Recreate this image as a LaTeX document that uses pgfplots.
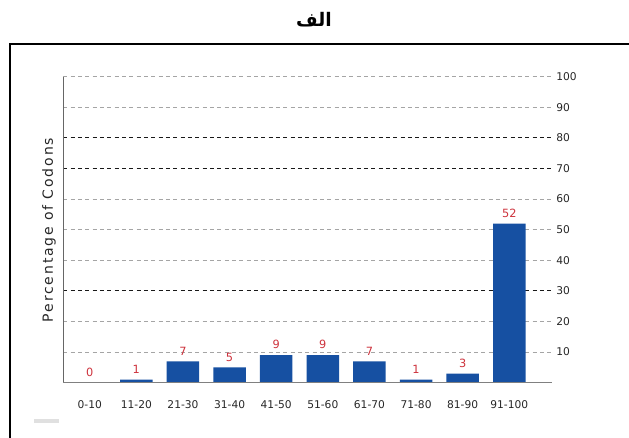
\documentclass[border=0pt]{standalone}
\usepackage{fontspec}
\usepackage{pgfplots}
\pgfplotsset{compat=1.18}
\setmainfont{DejaVu Sans}
\newfontfamily\arabicfont[Script=Arabic]{DejaVu Sans}
\newfontfamily\labfont[LetterSpace=13]{DejaVu Sans}
\TeXXeTstate=1
\definecolor{barblue}{RGB}{22,80,162}
\definecolor{labred}{RGB}{205,50,60}
\definecolor{gridgray}{RGB}{165,165,165}
\begin{document}
\begin{tikzpicture}
\begin{scope}[x=0.75pt,y=0.75pt]
\useasboundingbox (0,0) rectangle (629,438);
% title
\node[font=\arabicfont\bfseries\fontsize{14}{16}\selectfont] at (314,418) {\beginR الف\endR};
% frame
\draw[line width=1.4pt] (10,-10) -- (10,394) -- (650,394);
% small gray artifact
\fill[black!12] (34,15) rectangle (59,19);
% y label
\node[rotate=90,font=\labfont\fontsize{10.5}{12}\selectfont,text=black!85] at (49,208) {Percentage of Codons};
\end{scope}
\begin{axis}[
  at={(47.475pt,41.475pt)}, anchor=south west,
  scale only axis, width=366.3pt, height=229.5pt,
  xmin=-0.567, xmax=9.91, ymin=0, ymax=100,
  axis line style={draw=none},
  xtick={0,...,9},
  xticklabels={0-10,11-20,21-30,31-40,41-50,51-60,61-70,71-80,81-90,91-100},
  ytick={10,20,40,50,60,90,100},
  extra y ticks={30,70,80},
  extra y tick style={grid style={black!90, line width=0.9pt, dash pattern=on 3pt off 2.5pt}},
  yticklabel pos=right,
  major tick length=0pt,
  ymajorgrids,
  grid style={gridgray, line width=0.8pt, dash pattern=on 3pt off 2.5pt},
  /pgf/number format/assume math mode=true,
  ticklabel style={font=\fontsize{8}{9}\selectfont, text=black!85},
  xticklabel style={yshift=-10pt},
  clip=false,
]
\addplot[ybar, bar width=24.4pt, fill=barblue, draw=none,
  nodes near coords,
  every node near coord/.append style={font=\fontsize{8.5}{9}\selectfont, text=labred, yshift=1pt}]
  coordinates {(0,0) (1,1) (2,7) (3,5) (4,9) (5,9) (6,7) (7,1) (8,3) (9,52)};
\draw[black!60, line width=1.1pt] (rel axis cs:0,0) -- (rel axis cs:0,1);
\draw[black!50, line width=1.1pt] (rel axis cs:0,0) -- (rel axis cs:1,0);
\end{axis}
\end{tikzpicture}
\end{document}
